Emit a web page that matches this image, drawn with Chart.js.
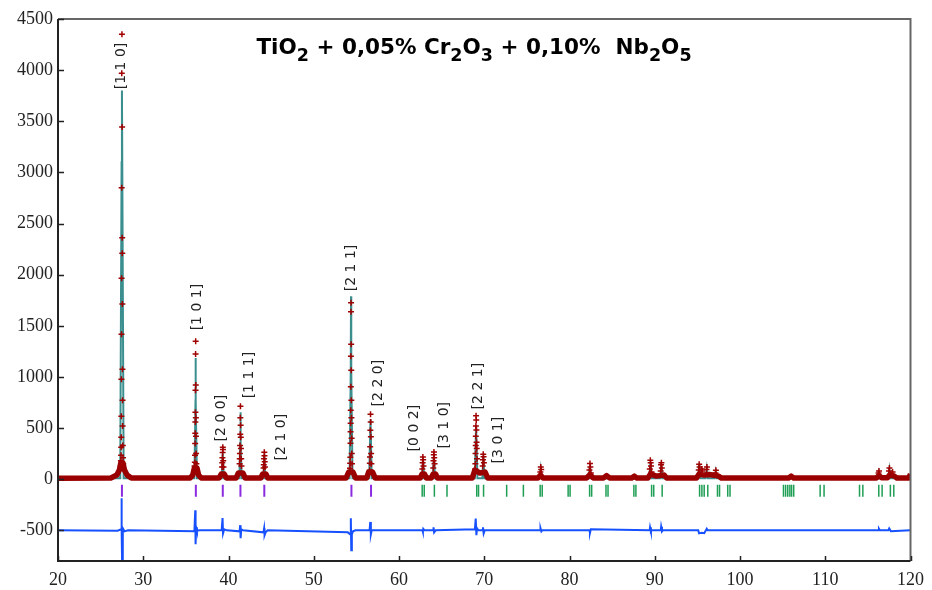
<!DOCTYPE html>
<html>
<head>
<meta charset="utf-8">
<script src="https://cdn.jsdelivr.net/npm/chart.js@4.4.1/dist/chart.umd.min.js"></script>
<style>
  html, body { margin: 0; padding: 0; background: #fff; }
</style>
</head>
<body>
<canvas id="xrd" width="932" height="590"></canvas>
<script>
// Axis ticks
const xTicks = [20, 30, 40, 50, 60, 70, 80, 90, 100, 110, 120];
const yTicks = [-500, 0, 500, 1000, 1500, 2000, 2500, 3000, 3500, 4000, 4500];

// Observed intensity: background band (2theta, counts)
const obsBandX = [20, 26.2, 26.9, 27.2, 27.38, 27.62, 27.8, 28.1, 28.6, 35.5, 35.8, 36.0, 36.3, 36.5, 36.8,
    38.9, 39.15, 39.5, 39.75, 40.9, 41.15, 41.7, 41.95, 43.8, 44.0, 44.4, 44.6, 53.8, 54.1, 54.6, 54.9,
    56.2, 56.45, 56.9, 57.2, 62.5, 62.7, 63.0, 63.2, 63.8, 64.0, 64.3, 64.5, 68.6, 68.9, 69.5, 70.1, 70.4,
    76.3, 76.6, 76.9, 82.0, 82.4, 82.8, 84.0, 84.35, 84.7, 87.3, 87.6, 87.9, 89.2, 89.5, 90.2, 91.1, 91.4,
    94.9, 95.2, 95.8, 96.4, 97.5, 97.8, 105.7, 106.0, 106.3, 116.0, 116.3, 116.6, 117.3, 117.6, 118.1, 118.4,
    119.8, 120];
const obsBandY = [10, 12, 40, 90, 165, 160, 90, 40, 12, 12, 40, 110, 110, 40, 12,
    12, 50, 50, 12, 12, 60, 60, 12, 12, 50, 50, 12, 12, 70, 70, 12,
    12, 70, 70, 12, 12, 50, 50, 12, 12, 50, 50, 12, 12, 90, 60, 70, 12,
    12, 40, 12, 12, 45, 12, 12, 35, 12, 12, 30, 12, 12, 50, 30, 40, 12,
    12, 50, 40, 45, 30, 12, 12, 30, 12, 12, 35, 15, 15, 45, 30, 12,
    12, 50];

// Observed intensity: points on the peaks
const obsPeakX = [
    27.36, 27.38, 27.40, 27.41, 27.42, 27.43, 27.44, 27.45, 27.46, 27.47, 27.48, 27.50, 27.52, 27.53, 27.54, 27.55, 27.56, 27.57, 27.58, 27.60, 27.62, 27.65,
    36.02, 36.05, 36.07, 36.09, 36.10, 36.11, 36.12, 36.13, 36.14, 36.15, 36.16, 36.17, 36.18, 36.20, 36.23,
    39.25, 39.27, 39.29, 39.31, 39.33, 39.35, 39.38, 39.41,
    41.30, 41.32, 41.34, 41.36, 41.38, 41.39, 41.40, 41.42, 41.44, 41.46, 41.49, 41.52,
    44.12, 44.14, 44.17, 44.20, 44.22, 44.25, 44.28,
    54.25, 54.27, 54.29, 54.31, 54.32, 54.33, 54.34, 54.35, 54.36, 54.37, 54.38, 54.39, 54.40, 54.41, 54.42, 54.44, 54.46, 54.49,
    56.56, 56.58, 56.60, 56.62, 56.64, 56.66, 56.68, 56.70, 56.73, 56.76,
    62.74, 62.77, 62.80, 62.83, 62.87,
    64.02, 64.05, 64.08, 64.10, 64.13, 64.17,
    68.94, 68.96, 68.98, 69.00, 69.01, 69.02, 69.04, 69.06, 69.08, 69.10, 69.12, 69.15,
    69.82, 69.85, 69.88, 69.92, 69.96,
    76.58, 76.63, 76.68,
    82.34, 82.40, 82.45, 82.50,
    89.42, 89.48, 89.52, 89.56, 89.62,
    90.70, 90.74, 90.78, 90.83,
    95.16, 95.21, 95.26,
    95.52, 95.58,
    96.07, 96.12,
    97.12, 97.17,
    116.25, 116.30,
    117.48, 117.53,
    117.90];
const obsPeakY = [
    130, 180, 235, 313, 411, 616, 978, 1418, 1966, 2850, 3970, 4350, 3445, 2360, 2210, 1712, 1076, 773, 520, 330, 210, 150,
    130, 166, 235, 350, 450, 560, 655, 870, 1223, 1350, 920, 600, 420, 250, 150,
    120, 160, 210, 260, 313, 290, 180, 120,
    150, 200, 250, 330, 440, 600, 714, 528, 410, 300, 200, 130,
    110, 140, 200, 264, 230, 170, 120,
    108, 156, 215, 352, 463, 548, 675, 903, 1203, 1637, 1725, 1320, 1066, 773, 600, 400, 250, 150,
    88, 156, 218, 316, 479, 636, 560, 414, 250, 150,
    100, 160, 218, 190, 130,
    110, 180, 240, 267, 210, 150,
    100, 150, 250, 330, 420, 520, 620, 580, 480, 360, 300, 200,
    130, 190, 245, 220, 160,
    70, 120, 95,
    90, 153, 120, 60,
    100, 186, 160, 130, 70,
    80, 140, 160, 110,
    90, 147, 120,
    100, 80,
    95, 120,
    60, 88,
    60, 81,
    80, 110,
    71];

// Calculated profile
const calcX = [20,
    27.3, 27.46, 27.5, 27.54, 27.7,
    36.0, 36.13, 36.14, 36.16, 36.3,
    39.2, 39.33, 39.45,
    41.28, 41.36, 41.40, 41.44, 41.55,
    44.1, 44.2, 44.3,
    54.2, 54.34, 54.37, 54.40, 54.55,
    56.5, 56.66, 56.8,
    62.7, 62.82, 62.95,
    63.98, 64.1, 64.22,
    68.9, 69.04, 69.2,
    69.78, 69.9, 70.02,
    76.5, 76.63, 76.76,
    82.28, 82.4, 82.52,
    89.36, 89.49, 89.62,
    90.64, 90.77, 90.9,
    95.08, 95.21, 95.34,
    95.98, 96.11, 96.24,
    97.03, 97.16, 97.29,
    116.15, 116.28, 116.41,
    117.39, 117.52, 117.65,
    120];
const calcY = [10,
    10, 3100, 3800, 3100, 10,
    10, 770, 1184, 770, 10,
    10, 254, 10,
    10, 350, 655, 350, 10,
    10, 240, 10,
    10, 1066, 1790, 1066, 10,
    10, 587, 10,
    10, 190, 10,
    10, 240, 10,
    10, 530, 10,
    10, 220, 10,
    10, 100, 10,
    10, 130, 10,
    10, 160, 10,
    10, 140, 10,
    10, 150, 10,
    10, 100, 10,
    10, 75, 10,
    10, 65, 10,
    10, 95, 10,
    10];

// Difference (obs - calc), drawn shifted down
const diffOffset = -500;
const diffX = [20, 27.0, 27.4, 27.45, 27.48, 27.52, 27.6, 27.8, 28.2,
    36.0, 36.1, 36.14, 36.2, 36.3, 36.6, 39.2, 39.3, 39.36, 39.5, 39.8, 41.3, 41.37, 41.42, 41.5, 41.7,
    44.1, 44.18, 44.23, 44.35, 44.6, 54.0, 54.3, 54.35, 54.4, 54.47, 54.6, 54.9,
    56.55, 56.63, 56.7, 56.8, 62.75, 62.8, 62.85, 63, 64.0, 64.05, 64.12, 64.3, 68.9, 69.0, 69.08, 69.15, 69.3,
    69.8, 69.85, 69.93, 70.05, 76.55, 76.6, 76.7, 76.8, 82.35, 82.4, 82.5, 89.4, 89.45, 89.55, 89.65,
    90.7, 90.75, 90.85, 90.95, 95.1, 95.2, 95.5, 95.8, 96.0, 96.1, 96.2,
    116.2, 116.3, 116.4, 117.4, 117.5, 117.7, 120];
const diffY = [0, -3, 10, 314, 0, -320, 20, -10, 0,
    -10, 197, -136, 30, -5, 0, 0, 119, -30, 10, 0, -10, 50, -77, 10, 0,
    -20, 20, -48, -20, 0, -20, -40, 119, -195, -40, -10, 0,
    0, 82, -40, 0, 0, -15, 15, 0, 0, 30, -20, 0, 10, 115, -48, 20, 0,
    0, 30, -30, 0, 0, 20, -10, 0, 0, -25, 10, 0, 30, -10, 0,
    0, 35, -10, 0, 0, -30, -25, -28, 0, 15, 0,
    0, 15, 0, 0, 18, -10, 0];

// Bragg reflection positions
const braggTickY = -112;
const braggPurple = [27.5, 36.17, 39.33, 41.4, 44.2, 54.42, 56.72];
const braggGreen = [62.72, 62.96, 64.15, 65.63, 69.12, 69.33, 69.92, 72.63, 74.59, 76.56, 76.8, 79.84, 80.07,
    82.36, 82.6, 84.28, 84.52, 87.55, 87.79, 89.63, 89.88, 90.87, 95.26, 95.53, 95.8, 96.22, 97.36, 97.6,
    98.56, 98.83, 105.1, 105.35, 105.6, 105.85, 106.05, 106.3, 109.4, 109.86, 114.02, 114.41, 116.28, 116.67,
    117.64, 118.04];

// Miller index labels and where they sit (2theta, counts)
const hklLabels = ['[1 1 0]', '[1 0 1]', '[2 0 0]', '[1 1 1]', '[2 1 0]', '[2 1 1]', '[2 2 0]', '[0 0 2]', '[3 1 0]', '[2 2 1]', '[3 0 1]'];
const hklX = [27.48, 36.3, 39.2, 42.5, 46.2, 54.4, 57.56, 61.76, 65.27, 69.36, 71.6];
const hklY = [4041, 1683, 597, 1018, 411, 2065, 939, 499, 528, 910, 382];

// Title pieces: text and whether it is a subscript
const titleParts = [['TiO', false], ['2', true], [' + 0,05% Cr', false], ['2', true], ['O', false], ['3', true],
    [' + 0,10%  Nb', false], ['2', true], ['O', false], ['5', true]];

function toPoints(xs, ys, offset = 0) {
    return xs.map((x, i) => ({x: x, y: ys[i] + offset}));
}

// Frame, inward ticks, labels and title
const decorPlugin = {
    id: 'decor',
    afterDatasetsDraw(chart) {
        const ctx = chart.ctx;
        const area = chart.chartArea;
        const xs = chart.scales.x;
        const ys = chart.scales.y;
        ctx.save();

        // frame
        ctx.lineWidth = 2;
        ctx.strokeStyle = '#666';
        ctx.beginPath();
        ctx.moveTo(area.left, area.top);
        ctx.lineTo(area.right, area.top);
        ctx.lineTo(area.right, area.bottom);
        ctx.stroke();
        ctx.strokeStyle = '#222';
        ctx.beginPath();
        ctx.moveTo(area.left, area.top);
        ctx.lineTo(area.left, area.bottom);
        ctx.lineTo(area.right, area.bottom);
        ctx.stroke();

        // inward ticks
        ctx.lineWidth = 1.5;
        ctx.beginPath();
        xTicks.forEach(v => {
            const px = Math.round(xs.getPixelForValue(v)) + 0.5;
            ctx.moveTo(px, area.bottom);
            ctx.lineTo(px, area.bottom - 5);
        });
        yTicks.forEach(v => {
            const py = Math.round(ys.getPixelForValue(v)) + 0.5;
            ctx.moveTo(area.left, py);
            ctx.lineTo(area.left + 6, py);
        });
        ctx.stroke();

        // hkl labels, rotated
        ctx.fillStyle = '#222';
        ctx.font = '14px "DejaVu Sans"';
        ctx.textAlign = 'center';
        ctx.textBaseline = 'middle';
        hklLabels.forEach((label, i) => {
            ctx.save();
            ctx.translate(xs.getPixelForValue(hklX[i]), ys.getPixelForValue(hklY[i]));
            ctx.rotate(-Math.PI / 2);
            ctx.fillText(label, 0, 0);
            ctx.restore();
        });

        // title with subscripts
        const mainFont = 'bold 21.5px "DejaVu Sans"';
        const subFont = 'bold 17.5px "DejaVu Sans"';
        ctx.textAlign = 'left';
        ctx.textBaseline = 'alphabetic';
        let total = 0;
        titleParts.forEach(([t, sub]) => {
            ctx.font = sub ? subFont : mainFont;
            total += ctx.measureText(t).width;
        });
        let x = 474 - total / 2;
        ctx.fillStyle = '#000';
        titleParts.forEach(([t, sub]) => {
            ctx.font = sub ? subFont : mainFont;
            ctx.fillText(t, x, sub ? 61 : 54);
            x += ctx.measureText(t).width;
        });
        ctx.restore();
    }
};

const tickFont = {family: '"Liberation Serif", "Times New Roman", serif', size: 18};

new Chart(document.getElementById('xrd').getContext('2d'), {
    type: 'scatter',
    data: {
        datasets: [
            {
                // observed points
                data: toPoints(obsPeakX, obsPeakY),
                pointStyle: 'cross',
                pointRadius: 3,
                pointBorderWidth: 1.5,
                borderColor: '#a00000',
                showLine: false,
                order: 1
            },
            {
                // observed background band, over the calculated baseline
                data: toPoints(obsBandX, obsBandY),
                showLine: true,
                borderColor: '#9a0000',
                borderWidth: 5.5,
                borderJoinStyle: 'round',
                pointRadius: 0,
                order: 2
            },
            {
                // calculated profile
                data: toPoints(calcX, calcY),
                showLine: true,
                borderColor: '#3a8e8e',
                borderWidth: 2,
                pointRadius: 0,
                order: 3
            },
            {
                data: braggPurple.map(x => ({x: x, y: braggTickY})),
                pointStyle: 'line',
                rotation: 90,
                pointRadius: 6,
                pointBorderWidth: 2,
                borderColor: '#8b2be0',
                order: 4
            },
            {
                data: braggGreen.map(x => ({x: x, y: braggTickY})),
                pointStyle: 'line',
                rotation: 90,
                pointRadius: 6,
                pointBorderWidth: 1.5,
                borderColor: '#1f9e55',
                order: 4
            },
            {
                // difference curve
                data: toPoints(diffX, diffY, diffOffset),
                showLine: true,
                borderColor: '#1650ff',
                borderWidth: 2,
                pointRadius: 0,
                order: 5
            }
        ]
    },
    options: {
        responsive: false,
        animation: false,
        layout: {padding: {top: 19, right: 19, left: 0, bottom: 0}},
        plugins: {
            legend: {display: false},
            tooltip: {enabled: false}
        },
        scales: {
            x: {
                type: 'linear',
                min: 20,
                max: 120,
                afterBuildTicks: scale => { scale.ticks = xTicks.map(v => ({value: v})); },
                afterFit: scale => { scale.height = 29; },
                ticks: {font: tickFont, color: '#222', padding: 8, maxRotation: 0, callback: v => String(v)},
                grid: {display: false, drawTicks: false},
                border: {display: false}
            },
            y: {
                type: 'linear',
                min: -800,
                max: 4500,
                afterBuildTicks: scale => { scale.ticks = yTicks.map(v => ({value: v})); },
                afterFit: scale => { scale.width = 58; },
                ticks: {font: tickFont, color: '#222', padding: 5, callback: v => String(v)},
                grid: {display: false, drawTicks: false},
                border: {display: false}
            }
        }
    },
    plugins: [decorPlugin]
});
</script>
</body>
</html>
